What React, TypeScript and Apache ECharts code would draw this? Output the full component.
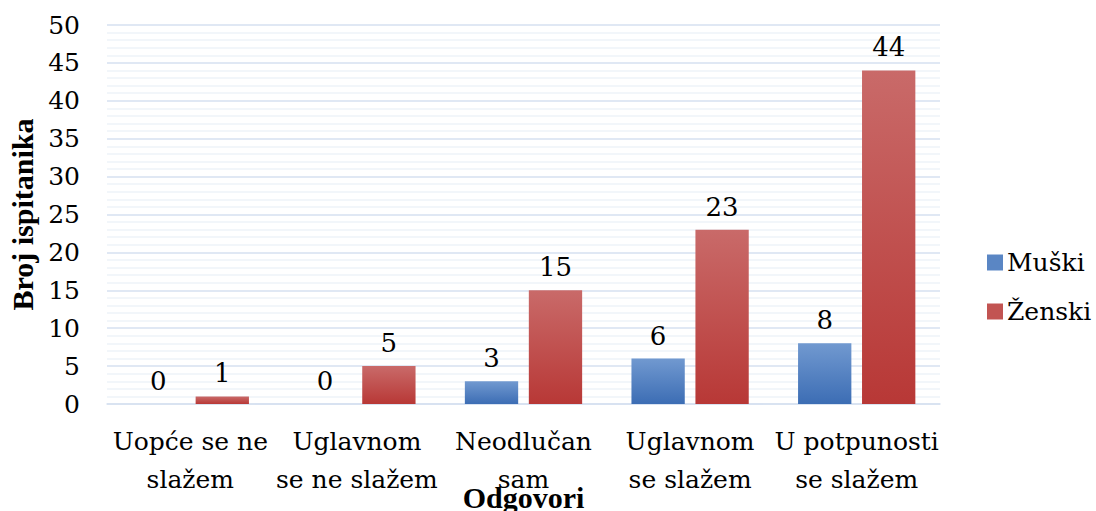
import React, { useEffect, useRef } from "react";
import * as echarts from "echarts";

const categories = [
  "Uopće se ne\nslažem",
  "Uglavnom\nse ne slažem",
  "Neodlučan\nsam",
  "Uglavnom\nse slažem",
  "U potpunosti\nse slažem",
];
const muski = [0, 0, 3, 6, 8];
const zenski = [1, 5, 15, 23, 44];
const seriesNames = ["Muški", "Ženski"];

const FONT_BOLD = "Liberation Serif";
const FONT = "DejaVu Serif";

export default function App() {
  const ref = useRef<HTMLDivElement>(null);
  useEffect(() => {
    if (!ref.current) return;
    const chart = echarts.init(ref.current, null, { renderer: "svg" });
    const grad = (top: string, bottom: string) =>
      new echarts.graphic.LinearGradient(0, 0, 0, 1, [
        { offset: 0, color: top },
        { offset: 1, color: bottom },
      ]);
    const blue = grad("#7199d0", "#3c6db4");
    const red = grad("#c96a69", "#b83836");
    const labelStyle = {
      show: true,
      position: "top" as const,
      distance: 10,
      fontFamily: FONT,
      fontWeight: 400,
      fontSize: 26,
      color: "#000",
    };
    chart.setOption({
      animation: false,
      textStyle: { fontFamily: FONT },
      grid: { left: 107, right: 156, top: 25, bottom: 107, outerBoundsMode: "none", containLabel: false },
      legend: {
        orient: "vertical",
        left: 982,
        top: 245,
        itemWidth: 16,
        itemHeight: 16,
        itemGap: 24,
        icon: "rect",
        textStyle: { fontFamily: FONT, fontWeight: 400, fontSize: 25, color: "#000", padding: [0, 0, 0, -1] },
        data: [
          { name: seriesNames[0], itemStyle: { color: "#5a86c4" } },
          { name: seriesNames[1], itemStyle: { color: "#c25452" } },
        ],
      },
      xAxis: {
        type: "category",
        data: categories,
        name: "Odgovori",
        nameLocation: "middle",
        nameGap: 78,
        nameMoveOverlap: false,
        nameTextStyle: { fontFamily: FONT_BOLD, fontSize: 30, fontWeight: "bold", color: "#000" },
        axisLine: { show: true, lineStyle: { color: "#d6e1f0", width: 1.5 } },
        axisTick: { show: false },
        axisLabel: {
          fontFamily: FONT,
          fontWeight: 400,
          fontSize: 25,
          color: "#000",
          lineHeight: 38,
          margin: 18,
          interval: 0,
        },
      },
      yAxis: {
        type: "value",
        min: 0,
        max: 50,
        interval: 5,
        name: "Broj ispitanika",
        nameLocation: "middle",
        nameGap: 70,
        nameRotate: 90,
        nameMoveOverlap: false,
        nameTextStyle: { fontFamily: FONT_BOLD, fontSize: 30, fontWeight: "bold", color: "#000" },
        axisLine: { show: false },
        axisTick: { show: false },
        axisLabel: { fontFamily: FONT, fontWeight: 400, fontSize: 25, color: "#000", margin: 27 },
        splitLine: { show: true, lineStyle: { color: "#d6e1f0", width: 1.5 } },
        minorTick: { show: false, splitNumber: 5 },
        minorSplitLine: { show: true, lineStyle: { color: "#eef3f9", width: 1.5 } },
      },
      series: [
        {
          name: seriesNames[0],
          type: "bar",
          data: muski,
          barWidth: "32%",
          barGap: "20%",
          itemStyle: { color: blue },
          label: labelStyle,
        },
        {
          name: seriesNames[1],
          type: "bar",
          data: zenski,
          barWidth: "32%",
          barGap: "20%",
          itemStyle: { color: red },
          label: labelStyle,
        },
      ],
    });
    return () => chart.dispose();
  }, []);
  return <div ref={ref} style={{ width: 1096, height: 511, position: "absolute", left: 0, top: 0, background: "#fff" }} />;
}
